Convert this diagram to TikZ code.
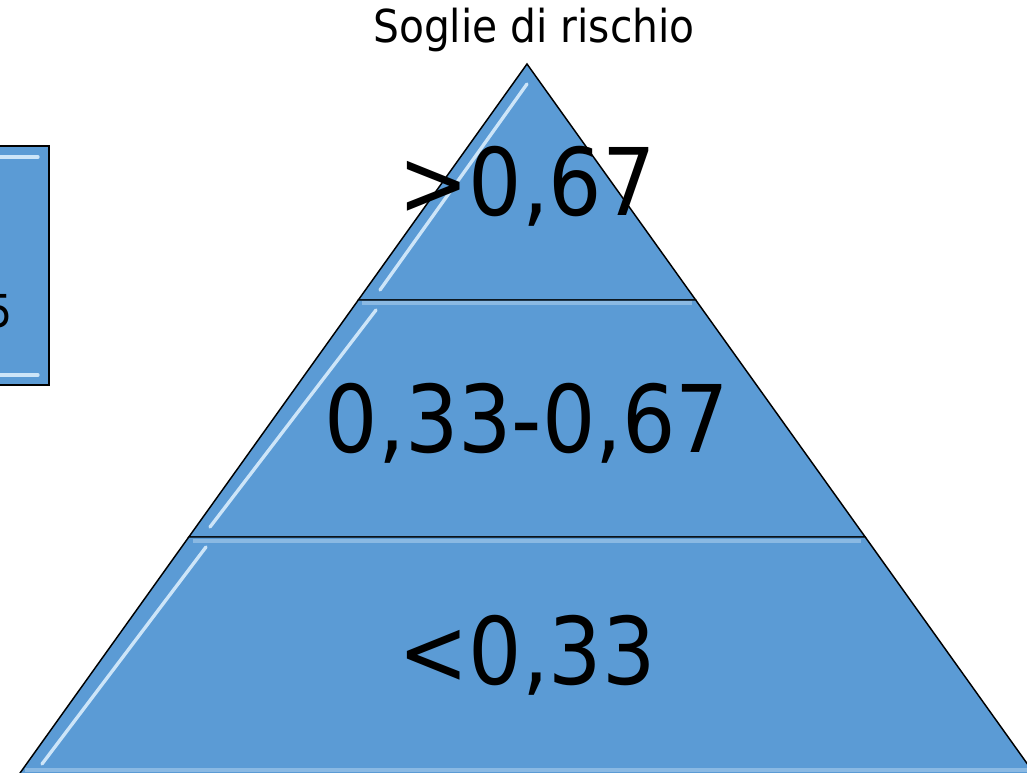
\documentclass[tikz,border=0pt]{standalone}
\usepackage{fontspec}
\setmainfont{DejaVu Sans Condensed}
\usetikzlibrary{calc}
\definecolor{layerblue}{HTML}{5B9BD5}
\definecolor{glint}{HTML}{E2F2FF}
\tikzset{
  layer/.style={fill=layerblue,draw=black,line width=1.1pt,line join=miter},
  gloss/.style={glint,line width=2.5pt,line cap=round,opacity=0.85},
  rim/.style={glint,line width=3pt,opacity=0.35},
  bigval/.style={font=\fontsize{70}{80}\selectfont,anchor=base,inner sep=0pt},
  headline/.style={font=\fontsize{34}{40}\selectfont,anchor=base,inner sep=0pt}
}
\begin{document}
\begin{tikzpicture}[x=0.75pt,y=-0.75pt]
  \useasboundingbox (0,0) rectangle (1027,773);
  \clip (0,0) rectangle (1027,773);
  % pyramid corners
  \coordinate (apex) at (527,64);
  \coordinate (l1) at (358.3,300);
  \coordinate (r1) at (695.7,300);
  \coordinate (l2) at (188.8,537);
  \coordinate (r2) at (865.2,537);
  \coordinate (l3) at (17.9,776);
  \coordinate (r3) at (1036,776);
  % layers
  \draw[layer] (apex) -- (r1) -- (l1) -- cycle;
  \draw[layer] (l1) -- (r1) -- (r2) -- (l2) -- cycle;
  \draw[layer] (l2) -- (r2) -- (r3) -- (l3) -- cycle;
  % glossy edges
  \draw[rim] (362,303.5) -- (692,303.5);
  \draw[rim] (193,540.5) -- (861,540.5);
  \draw[rim] (25,770) -- (1027,770);
  \draw[gloss] (380,290) -- (527,84);
  \draw[gloss] (210,527) -- (376,310);
  \draw[gloss] (42,764) -- (206,547);
  % left box (cut by the page edge)
  \draw[layer] (-150,146) rectangle (49,385);
  \draw[gloss] (-5,157) -- (38,157);
  \draw[gloss] (-5,375) -- (38,375);
  \node[headline,anchor=base east] (boxtext) at (13,328) {5};
  % labels
  \node[headline] (title) at (534,43) {Soglie di rischio};
  \node[bigval] (top) at (527,216) {>0,67};
  \node[bigval] (mid) at (527,452) {0,33-0,67};
  \node[bigval] (low) at (527,684) {<0,33};
\end{tikzpicture}
\end{document}
